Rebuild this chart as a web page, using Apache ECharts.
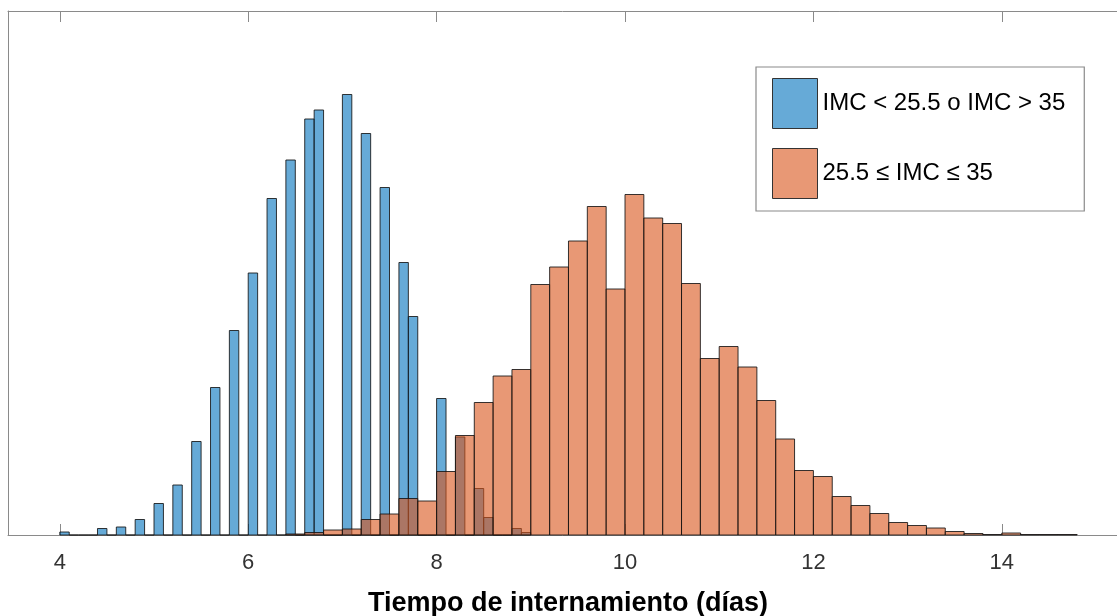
<!DOCTYPE html>
<html>
<head>
<meta charset="utf-8">
<script src="https://cdn.jsdelivr.net/npm/echarts@6/dist/echarts.min.js"></script>
<style>
  html, body { margin: 0; padding: 0; background: #ffffff; }
  #chart { width: 1117px; height: 616px; }
</style>
</head>
<body>
<div id="chart"></div>
<script>
// blue histogram: bins of 0.1 starting at 4.0
const blueStart = 4.0;
const blueWidth = 0.1;
const blueCounts = [
  6, 0, 0, 0, 13, 0, 16, 0, 31, 0,
  63, 0, 100, 0, 187, 0, 295, 0, 409, 0,
  524, 0, 673, 0, 750, 0, 832, 850, 0, 0,
  881, 0, 803, 0, 695, 0, 545, 437, 0, 0,
  273, 0, 196, 0, 93, 35, 0, 0, 13, 5
];

// orange histogram: bins of 0.2 starting at 6.4
const orangeStart = 6.4;
const orangeWidth = 0.2;
const orangeCounts = [
  2, 5, 10, 12, 31, 42, 73, 68, 127, 199,
  265, 318, 331, 501, 536, 588, 657, 492, 681, 634,
  623, 503, 353, 377, 336, 269, 192, 129, 117, 77,
  59, 43, 25, 19, 14, 7, 3, 1, 4, 1,
  1, 1
];

const seriesNames = ['IMC < 25.5 o IMC > 35', '25.5 \u2264 IMC \u2264 35'];
const xTicks = [4, 6, 8, 10, 12, 14];
const xLabel = 'Tiempo de internamiento (días)';

const toBins = (start, width, counts) =>
  counts.map((c, i) => [start + i * width, start + (i + 1) * width, c]);

const blueFill = 'rgba(0, 114, 189, 0.6)';
const orangeFill = 'rgba(217, 83, 25, 0.6)';
const edgeColor = 'rgba(20, 20, 20, 0.85)';
const axisColor = '#8a8a8a';
const font = '"Liberation Sans", Arial, Helvetica, sans-serif';

function renderBin(fill) {
  return function (params, api) {
    const p0 = api.coord([api.value(0), 0]);
    const p1 = api.coord([api.value(1), api.value(2)]);
    return {
      type: 'rect',
      shape: {
        x: p0[0],
        y: p1[1],
        width: p1[0] - p0[0],
        height: p0[1] - p1[1],
      },
      style: {
        fill: fill,
        stroke: edgeColor,
        lineWidth: 1,
      },
    };
  };
}

const chart = echarts.init(document.getElementById('chart'), null, { renderer: 'canvas' });

// axes box is wider than the picture; the right edge falls just outside
const xMin = 3.45;
const xMax = 15.223;

chart.setOption({
  animation: false,
  backgroundColor: '#ffffff',
  grid: {
    left: 8,
    top: 11,
    right: 0,
    bottom: 81,
    containLabel: false,
    outerBoundsMode: 'none',
  },
  legend: {
    orient: 'vertical',
    left: 756,
    top: 67,
    padding: [11, 19, 12, 16],
    itemWidth: 45,
    itemHeight: 50,
    itemGap: 19,
    icon: 'rect',
    backgroundColor: '#ffffff',
    borderColor: axisColor,
    borderWidth: 1.2,
    itemStyle: {
      borderColor: '#333333',
      borderWidth: 1,
    },
    textStyle: {
      fontFamily: font,
      fontSize: 24,
      color: '#000000',
    },
    data: seriesNames,
  },
  xAxis: [
    {
      type: 'value',
      position: 'bottom',
      min: xMin,
      max: xMax,
      name: xLabel,
      nameLocation: 'middle',
      nameGap: 55,
      nameTextStyle: {
        fontFamily: font,
        fontSize: 27,
        fontWeight: 'bold',
        color: '#000000',
        padding: [0, 0, 0, 11],
      },
      axisLine: { show: true, onZero: false, lineStyle: { color: axisColor, width: 1 } },
      axisTick: {
        show: true,
        inside: true,
        length: 11,
        customValues: xTicks,
        lineStyle: { color: axisColor },
      },
      axisLabel: {
        show: true,
        customValues: xTicks,
        margin: 17,
        fontFamily: font,
        fontSize: 22,
        color: '#333333',
      },
      splitLine: { show: false },
    },
    {
      type: 'value',
      position: 'top',
      min: xMin,
      max: xMax,
      axisLine: { show: true, onZero: false, lineStyle: { color: axisColor, width: 1 } },
      axisTick: {
        show: true,
        inside: true,
        length: 11,
        customValues: xTicks,
        lineStyle: { color: axisColor },
      },
      axisLabel: { show: false },
      splitLine: { show: false },
    },
  ],
  yAxis: {
    type: 'value',
    min: 0,
    max: 1048,
    axisLine: { show: true, onZero: false, lineStyle: { color: axisColor, width: 1 } },
    axisTick: { show: false },
    axisLabel: { show: false },
    splitLine: { show: false },
  },
  series: [
    {
      name: seriesNames[0],
      type: 'custom',
      xAxisIndex: 0,
      itemStyle: { color: blueFill },
      renderItem: renderBin(blueFill),
      encode: { x: [0, 1], y: 2 },
      data: toBins(blueStart, blueWidth, blueCounts),
    },
    {
      name: seriesNames[1],
      type: 'custom',
      xAxisIndex: 0,
      itemStyle: { color: orangeFill },
      renderItem: renderBin(orangeFill),
      encode: { x: [0, 1], y: 2 },
      data: toBins(orangeStart, orangeWidth, orangeCounts),
    },
  ],
});
</script>
</body>
</html>
